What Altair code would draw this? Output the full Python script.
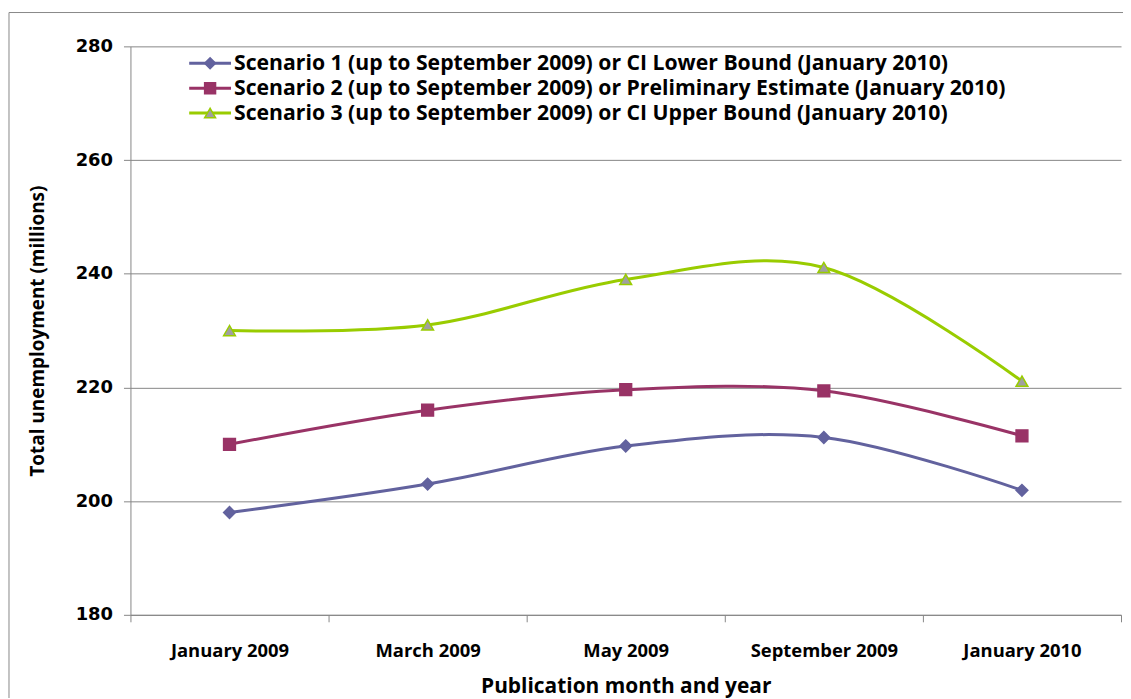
import altair as alt
import pandas as pd

months = ["January 2009", "March 2009", "May 2009", "September 2009", "January 2010"]
series_names = [
    "Scenario 1 (up to September 2009) or CI Lower Bound (January  2010)",
    "Scenario 2 (up to September 2009) or Preliminary Estimate (January 2010)",
    "Scenario 3 (up to September 2009) or CI Upper Bound (January 2010)",
]
s1 = [198.0, 203.0, 209.7, 211.2, 201.9]
s2 = [210.0, 216.0, 219.6, 219.4, 211.5]
s3 = [230.0, 231.0, 239.0, 241.1, 221.1]
y_ticks = [180, 200, 220, 240, 260, 280]

line_colors = ["#62629E", "#993366", "#99CC00"]
fill_colors = ["#62629E", "#993366", "#A0A0A0"]
shapes = ["diamond", "square", "triangle-up"]

rows = []
for name, vals in zip(series_names, [s1, s2, s3]):
    for m, v in zip(months, vals):
        rows.append({"series": name, "month": m, "value": v})
df = pd.DataFrame(rows)

LABEL_FONT = "Open Sans"

x_enc = alt.X(
    "month:N", sort=months,
    scale=alt.Scale(type="band", paddingInner=0, paddingOuter=0),
    axis=alt.Axis(
        title="Publication month and year", tickBand="extent", grid=False,
        domainColor="#868686", tickColor="#868686", tickSize=7,
        labelFont=LABEL_FONT, labelFontSize=18.5, labelFontWeight="bold", labelColor="black",
        labelPadding=20, labelAngle=0,
        titleFont=LABEL_FONT, titleFontSize=21, titleFontWeight="bold", titleColor="black",
        titlePadding=16,
    ),
)
y_enc = alt.Y(
    "value:Q",
    scale=alt.Scale(domain=[180, 280], nice=False, zero=False),
    axis=alt.Axis(
        title="Total unemployment (millions)", values=y_ticks, grid=True,
        gridColor="#868686", gridWidth=1, domainColor="#868686", tickColor="#868686",
        tickSize=7, labelFont="DejaVu Sans", labelFontSize=18, labelFontWeight="bold",
        labelColor="black", labelPadding=11,
        titleFont="Open Sans", titleFontSize=19, titleFontWeight="bold", titleColor="black",
        titlePadding=28,
    ),
)

color_scale = alt.Scale(domain=series_names, range=line_colors)

lines = alt.Chart(df).mark_line(interpolate="cardinal", strokeWidth=3).encode(
    x=x_enc, y=y_enc,
    color=alt.Color("series:N", scale=color_scale, legend=None),
)
points = alt.Chart(df).mark_point(filled=True, strokeWidth=1.5, opacity=1).encode(
    x=x_enc, y=y_enc,
    fill=alt.Fill("series:N", scale=alt.Scale(domain=series_names, range=fill_colors), legend=None),
    stroke=alt.Stroke("series:N", scale=color_scale, legend=None),
    shape=alt.Shape("series:N", scale=alt.Scale(domain=series_names, range=shapes), legend=None),
    size=alt.value(140),
)

layers = [lines, points]

# Custom legend
for i, name in enumerate(series_names):
    ldf = pd.DataFrame({"series": [name]})
    ypos = 17 + 25 * i
    layers.append(alt.Chart(ldf).mark_rule(strokeWidth=3, color=line_colors[i]).encode(
        x=alt.value(59), x2=alt.value(101), y=alt.value(ypos)))
    layers.append(alt.Chart(ldf).mark_point(
        filled=True, shape=shapes[i], fill=fill_colors[i], stroke=line_colors[i],
        strokeWidth=1.5, size=120, opacity=1).encode(x=alt.value(80), y=alt.value(ypos)))
    layers.append(alt.Chart(ldf).mark_text(
        align="left", baseline="middle", font=LABEL_FONT, fontSize=21.3, fontWeight="bold",
        color="black").encode(x=alt.value(104), y=alt.value(ypos + 1), text="series:N"))

# Outer chart border
bdf = pd.DataFrame({"a": [0]})
border = alt.Chart(bdf).mark_rect(fill=None, stroke="#888888", strokeWidth=1).encode(
    x=alt.value(-122), x2=alt.value(1010), y=alt.value(-34), y2=alt.value(700))
layers.insert(0, border)

chart = alt.layer(*layers).properties(
    width=995, height=571,
    autosize=alt.AutoSizeParams(type="none"),
    padding={"left": 123, "top": 37, "right": 2, "bottom": 82},
).configure_view(stroke=None)

chart.save("out.html", embed_options={"renderer": "svg", "actions": False})
